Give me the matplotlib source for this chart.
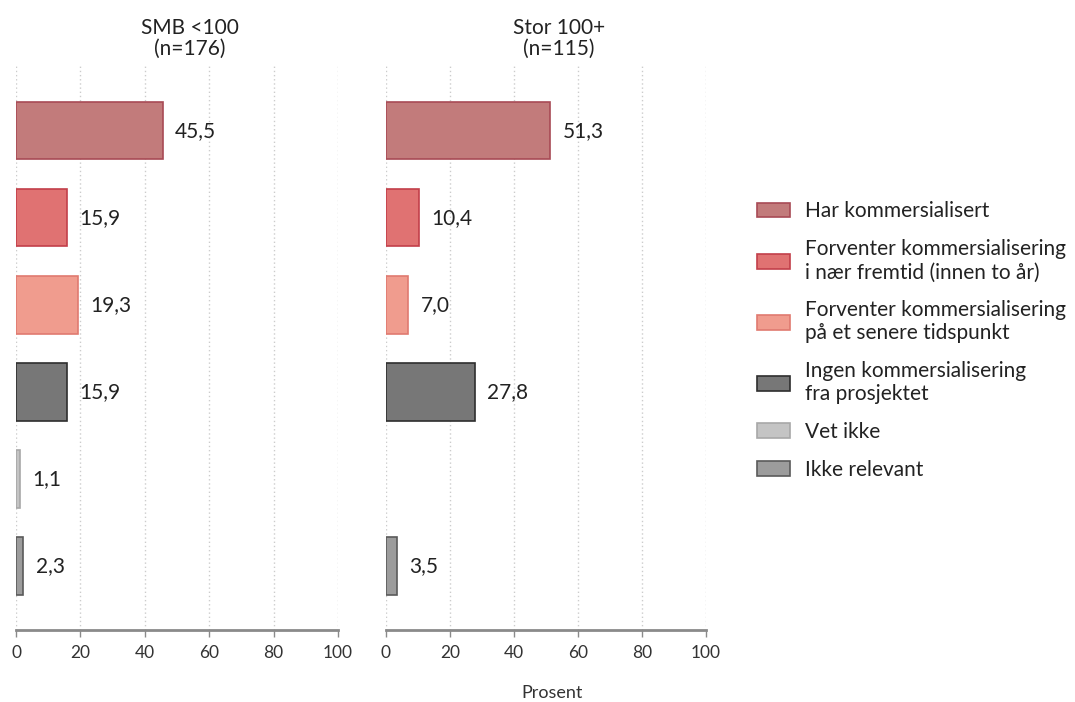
import numpy as np
import matplotlib
matplotlib.use("Agg")
import matplotlib.pyplot as plt

plt.rcParams["font.family"] = ["Lato", "DejaVu Sans"]

categories = [
    "Har kommersialisert",
    "Forventer kommersialisering\ni nær fremtid (innen to år)",
    "Forventer kommersialisering\npå et senere tidspunkt",
    "Ingen kommersialisering\nfra prosjektet",
    "Vet ikke",
    "Ikke relevant",
]
panel_titles = ["SMB <100\n(n=176)", "Stor 100+\n(n=115)"]
smb_values = [45.5, 15.9, 19.3, 15.9, 1.1, 2.3]
stor_values = [51.3, 10.4, 7.0, 27.8, np.nan, 3.5]
x_ticks = [0, 20, 40, 60, 80, 100]

fills = ["#c27b7b", "#e07272", "#f09c8e", "#777777", "#c4c4c4", "#9c9c9c"]
edges = ["#a84a55", "#c23f4a", "#e07a70", "#2e2e2e", "#a8a8a8", "#5a5a5a"]

fig = plt.figure(figsize=(10.75, 7.02), dpi=100)
axes = [
    fig.add_axes([0.0149, 0.1026, 0.2995, 0.803]),
    fig.add_axes([0.359, 0.1026, 0.2977, 0.803]),
]

y = np.arange(len(categories))
for ax, vals, title in zip(axes, [smb_values, stor_values], panel_titles):
    for yi, v, fc, ec in zip(y, vals, fills, edges):
        # a missing answer gets neither bar nor label
        if np.isnan(v):
            continue
        ax.barh(yi, v, height=0.66, color=fc, edgecolor=ec,
                linewidth=1.2, zorder=3)
        ax.annotate(f"{v:.1f}".replace(".", ","), (v, yi), xytext=(9, 0),
                    textcoords="offset points", va="center", ha="left",
                    fontsize=15, color="#222222")
    ax.set_xlim(0, 100)
    ax.set_ylim(len(categories) - 0.265, -0.74)
    ax.set_xticks(x_ticks)
    ax.set_yticks([])
    ax.xaxis.grid(True, linestyle=(0, (1, 2)), color="#cccccc", linewidth=1)
    ax.set_axisbelow(True)
    for side in ["top", "right", "left"]:
        ax.spines[side].set_visible(False)
    ax.spines["bottom"].set_color("#8a8a8a")
    ax.spines["bottom"].set_linewidth(2)
    ax.tick_params(axis="x", colors="#8a8a8a", length=5, width=1,
                   labelsize=12.5, labelcolor="#333333", pad=6)
    ax.set_title(title, fontsize=15, color="#222222", pad=8, x=0.54,
                 linespacing=1.1)

fig.text(0.514, 0.002, "Prosent", ha="center", va="bottom",
         fontsize=13, color="#333333")

handles = [plt.Rectangle((0, 0), 1, 1, facecolor=f, edgecolor=e, linewidth=1.2)
           for f, e in zip(fills, edges)]
leg = fig.legend(handles, categories, loc="upper left",
                 bbox_to_anchor=(0.704, 0.713), borderpad=0, borderaxespad=0,
                 frameon=False, fontsize=15, handlelength=1.6, handleheight=0.7,
                 labelspacing=0.85, handletextpad=0.7, labelcolor="#222222")
for txt in leg.get_texts():
    txt.set_linespacing(1.2)

fig.savefig("out.png", dpi=100)
